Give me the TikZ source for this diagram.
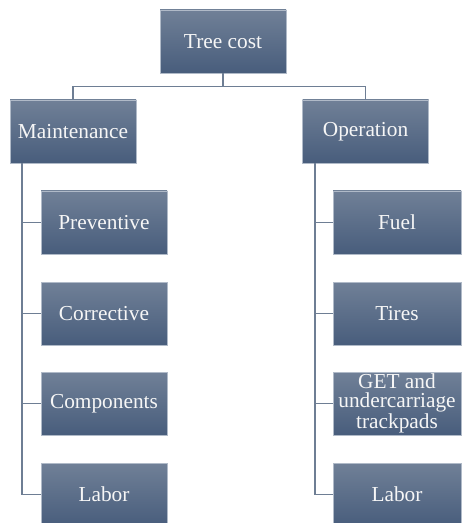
\documentclass[tikz,border=0pt]{standalone}
\usepackage{fontspec}
\setmainfont{Liberation Serif}
\newfontfamily\boxfont{Liberation Serif}
\definecolor{boxtop}{RGB}{112,128,151}
\definecolor{boxbot}{RGB}{72,93,124}
\definecolor{boxline}{RGB}{176,186,200}
\definecolor{linkcol}{RGB}{110,126,148}
\tikzset{
  costbox/.style={rectangle, draw=boxline, line width=0.4pt,
    top color=boxtop, bottom color=boxbot,
    text=white!93!gray, minimum width=94.5pt, minimum height=47.25pt,
    inner sep=1pt, font=\boxfont\fontsize{16}{14.5}\selectfont, align=center},
  link/.style={draw=linkcol, line width=1.1pt}
}
\begin{document}
\begin{tikzpicture}[x=0.75pt, y=-0.75pt]
\useasboundingbox (0,0) rectangle (462,523);
\node[costbox] (top) at (223,41.5) {Tree cost};
\node[costbox] (maint) at (73,131.5) {Maintenance};
\node[costbox] (oper) at (365.5,131.5) {Operation};

\node[costbox] (prev) at (104,222.5) {Preventive};
\node[costbox] (corr) at (104,313.5) {Corrective};
\node[costbox] (comp) at (104,403.5) {Components};
\node[costbox] (labl) at (104,494.5) {Labor};

\node[costbox, minimum width=96pt] (fuel) at (397,222.5) {Fuel};
\node[costbox, minimum width=96pt] (tire) at (397,313.5) {Tires};
\node[costbox, minimum width=96pt] (get) at (397,403.5) {GET and\\undercarriage\\trackpads};
\node[costbox, minimum width=96pt] (labr) at (397,494.5) {Labor};

\coordinate (ml) at (22,163);
\coordinate (ol) at (315,163);

\draw[link] (top.south) -- ++(0,13) -| (maint.north);
\draw[link] (top.south) -- ++(0,13) -| (oper.north);
\draw[link] (ml) |- (prev.west);
\draw[link] (ml) |- (corr.west);
\draw[link] (ml) |- (comp.west);
\draw[link] (ml) |- (labl.west);
\draw[link] (ol) |- (fuel.west);
\draw[link] (ol) |- (tire.west);
\draw[link] (ol) |- (get.west);
\draw[link] (ol) |- (labr.west);
\end{tikzpicture}
\end{document}
